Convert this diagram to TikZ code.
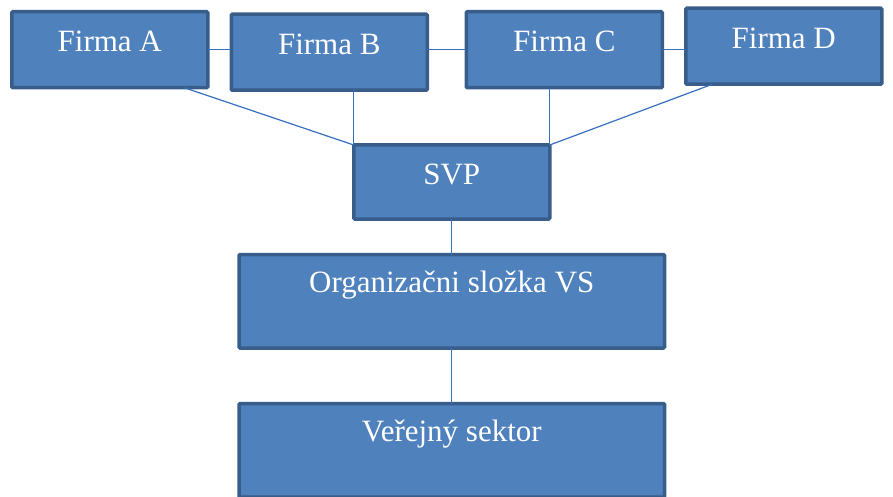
\documentclass[tikz,border=0pt]{standalone}
\usepackage{fontspec}
\setmainfont{Liberation Serif}
\usepackage{tikz}
\usetikzlibrary{positioning}
\definecolor{boxFill}{HTML}{4F81BD}
\definecolor{boxLine}{HTML}{385D8A}
\definecolor{linkLine}{HTML}{3570C0}
\tikzset{
    firmBox/.style={
        draw=boxLine,
        line width=3.5pt,
        rounded corners=1pt,
        fill=boxFill,
        text=white,
        font=\fontsize{31}{36}\selectfont,
        align=center,
        inner ysep=0pt,
        outer sep=0pt,
        text height=40pt,
        text depth=36pt,
        minimum width=196pt
    },
    sectorBox/.style={
        firmBox,
        text height=38pt,
        text depth=55.5pt,
        minimum width=425.5pt
    },
    linkLine/.style={
        draw=linkLine,
        line width=1.2pt
    }
}
\begin{document}
\begin{tikzpicture}[x=1pt,y=-1pt,node distance=23.5pt and 23.5pt]
        \useasboundingbox (0,0) rectangle (893,497);

        \node[firmBox,anchor=north west] (firmaA) at (11.75,11.75) {Firma A};
        \node[firmBox,right=of firmaA,yshift=-2.5pt] (firmaB) {Firma B};
        \node[firmBox,right=39pt of firmaB,yshift=2.5pt] (firmaC) {Firma C};
        \node[firmBox,right=of firmaC,yshift=3.5pt] (firmaD) {Firma D};

        \node[firmBox,anchor=north west,text depth=34pt] (svp) at (353.75,145) {SVP};
        \node[sectorBox,below=35.5pt of svp] (org) {Organizačni složka VS};
        \node[sectorBox,below=55.5pt of org] (sektor) {Veřejný sektor};

        \draw[linkLine] (firmaA.east) -- (firmaA.east -| firmaB.west);
        \draw[linkLine] (firmaC.west -| firmaB.east) -- (firmaC.west);
        \draw[linkLine] (firmaC.east) -- (firmaC.east -| firmaD.west);

        \draw[linkLine] (firmaA.-27) -- (svp.north west);
        \draw[linkLine] (svp.north west |- firmaB.south) -- (svp.north west);
        \draw[linkLine] (svp.north east |- firmaC.south) -- (svp.north east);
        \draw[linkLine] (firmaD.-152) -- (svp.north east);

        \draw[linkLine] (svp) -- (org);
        \draw[linkLine] (org) -- (sektor);
    \end{tikzpicture}
\end{document}
